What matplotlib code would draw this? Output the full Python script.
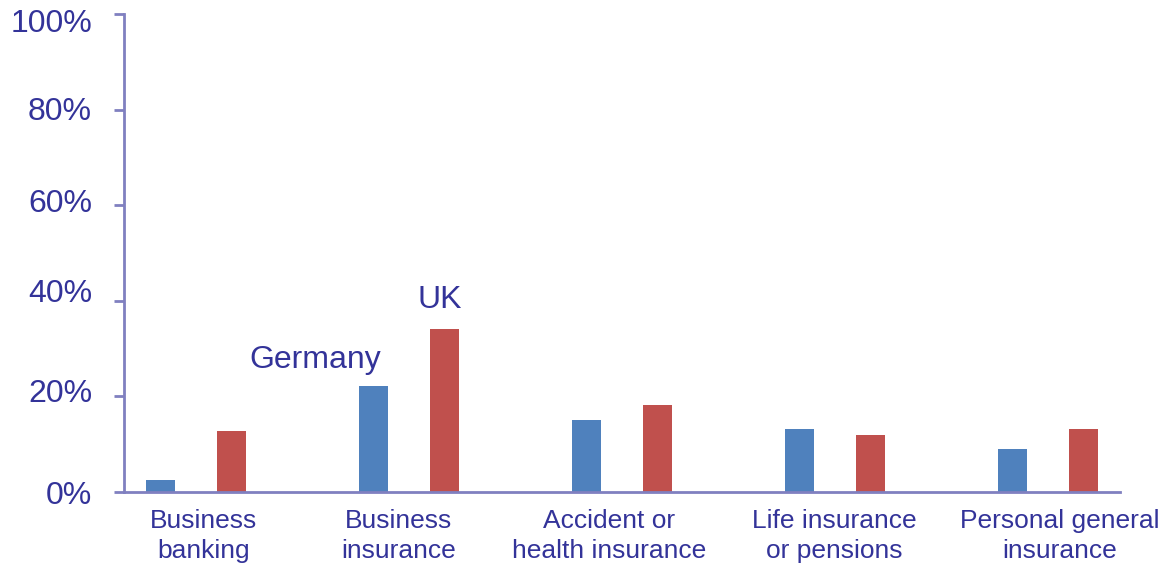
import matplotlib
matplotlib.use("Agg")
import matplotlib.pyplot as plt
import matplotlib.transforms as mtransforms
import numpy as np

categories = ["Business\nbanking", "Business\ninsurance", "Accident or\nhealth insurance",
              "Life insurance\nor pensions", "Personal general\ninsurance"]
germany = [2.5, 22.2, 15.1, 13.2, 9.1]
uk = [12.8, 34.2, 18.2, 11.9, 13.2]
yticks = [0, 20, 40, 60, 80, 100]
ytick_labels = ["0%", "20%", "40%", "60%", "80%", "100%"]

plt.rcParams['font.family'] = ['Liberation Sans', 'DejaVu Sans']
text_color = "#333399"
axis_color = "#8080C0"

fig = plt.figure(figsize=(11.62, 5.65), dpi=100)
ax = fig.add_axes([124/1162, 1-492/565, (1120-124)/1162, (492-14)/565])

x = np.arange(len(categories))
w = 0.136
off = 0.164
ax.bar(x - off - 0.004, germany, width=w, color="#4F81BD")
ax.bar(x + off, uk, width=w, color="#C0504D")

ax.set_xlim(-0.34, len(categories) - 1 + 0.336)
ax.set_ylim(0, 100)
ax.set_yticks(yticks)
ax.set_yticklabels(ytick_labels)
ax.set_xticks(x)
ax.set_xticklabels(categories, linespacing=1.33)

for s in ["top", "right"]:
    ax.spines[s].set_visible(False)
for s in ["left", "bottom"]:
    ax.spines[s].set_color(axis_color)
    ax.spines[s].set_linewidth(2)

ax.tick_params(axis="y", direction="out", length=7, width=2, color=axis_color,
               labelsize=23, labelcolor=text_color, pad=16)
ax.tick_params(axis="x", length=0, labelsize=19, labelcolor=text_color, pad=12)

# small label nudges (pixels) to follow the original's text placement
y_nudge = [1, -5.5, -10, -5, -1, 7]          # positive = down
x_nudge = [7.5, -10.5, -13.5, -1.5, 11.5]    # positive = right
for lbl, d in zip(ax.get_yticklabels(), y_nudge):
    lbl.set_transform(lbl.get_transform() +
                      mtransforms.ScaledTranslation(0, -d/100, fig.dpi_scale_trans))
for lbl, d in zip(ax.get_xticklabels(), x_nudge):
    lbl.set_transform(lbl.get_transform() +
                      mtransforms.ScaledTranslation(d/100, 0, fig.dpi_scale_trans))

ax.text(0.556, 27.6, "Germany", fontsize=23, color=text_color, ha="center", va="center")
ax.text(1.143, 40.2, "UK", fontsize=23, color=text_color, ha="center", va="center")

fig.savefig("out.png", dpi=100)
